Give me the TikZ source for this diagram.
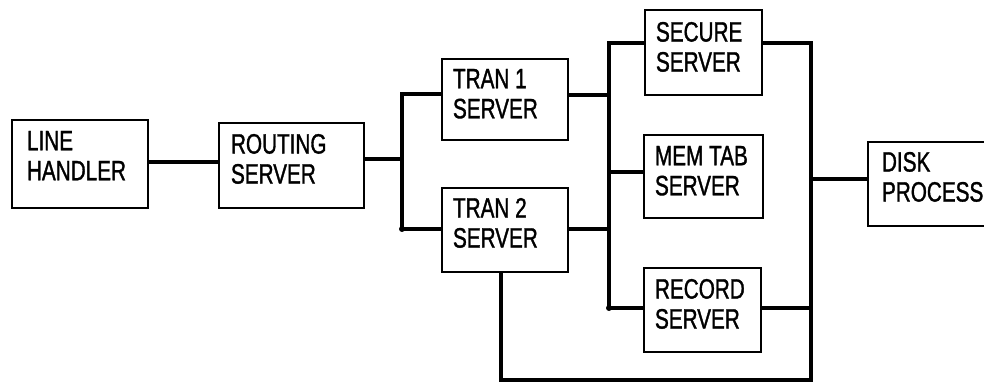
\documentclass[tikz,border=0pt]{standalone}
\usepackage{fontspec}
\setmainfont{Liberation Sans}[FakeStretch=0.74,FakeBold=1.2]
\usetikzlibrary{calc}
\tikzset{
  box/.style={draw=black, line width=2.4pt, fill=white, inner sep=0pt},
  txt/.style={anchor=north west, inner sep=0pt, align=left, font=\fontsize{28}{30}\selectfont},
  conn/.style={line width=3.2pt, line cap=rect},
}
\begin{document}
\begin{tikzpicture}[x=1pt,y=-1pt]
\useasboundingbox (0,0) rectangle (984,382);
\clip (0,0) rectangle (984,382);
% boxes
\node[box, minimum width=136pt, minimum height=88pt] (lh) at (80,164) {};
\node[box, minimum width=145pt, minimum height=85pt] (rs) at (291.5,165.5) {};
\node[box, minimum width=126pt, minimum height=81pt] (t1) at (505,99.5) {};
\node[box, minimum width=126pt, minimum height=84pt] (t2) at (505,230) {};
\node[box, minimum width=117pt, minimum height=85pt] (sec) at (703.5,52.5) {};
\node[box, minimum width=119pt, minimum height=83pt] (mem) at (703.5,176.5) {};
\node[box, minimum width=117pt, minimum height=84pt] (rec) at (702.5,310) {};
\node[box, minimum width=140pt, minimum height=84pt] (disk) at (938,184) {};
% texts
\node[txt] (lht) at ($(lh.north west)+(16,12)$) {LINE\\HANDLER};
\node[txt] (rst) at ($(rs.north west)+(13,12)$) {ROUTING\\SERVER};
\node[txt] (t1t) at ($(t1.north west)+(12,11)$) {TRAN 1\\SERVER};
\node[txt] (t2t) at ($(t2.north west)+(12,11)$) {TRAN 2\\SERVER};
\node[txt] (sect) at ($(sec.north west)+(12,13)$) {SECURE\\SERVER};
\node[txt] (memt) at ($(mem.north west)+(12,12)$) {MEM TAB\\SERVER};
\node[txt] (rect) at ($(rec.north west)+(12,12)$) {RECORD\\SERVER};
\node[txt] (diskt) at ($(disk.north west)+(15,11)$) {DISK\\PROCESS};
% bus coordinates
\coordinate (b1top) at (402,94);
\coordinate (b1bot) at (402,229);
\coordinate (b1mid) at (402,159);
\coordinate (b2top) at (609,43);
\coordinate (b2bot) at (609,308);
\coordinate (b3top) at (811,43);
\coordinate (b3bot) at (811,380);
\coordinate (c1) at (501,380);
% connectors
\draw[conn] ($(lh.east)+(0,-2)$) -- ($(rs.west)+(0,-3.5)$);
\draw[conn] (b1mid -| rs.east) -- (b1mid);
\draw[conn] (b1top) -- (b1bot);
\draw[conn] (b1top) -- (b1top -| t1.west);
\draw[conn] (b1bot) -- (b1bot -| t2.west);
\draw[conn] (t1.east |- 0,95) -- (b2top |- 0,95);
\draw[conn] (t2.east |- b1bot) -- (b2top |- b1bot);
\draw[conn] (b2top) -- (b2bot);
\draw[conn] (b2top) -- (b2top -| sec.west);
\draw[conn] (b2top |- 0,172) -- (mem.west |- 0,172);
\draw[conn] (b2bot) -- (b2bot -| rec.west);
\draw[conn] (sec.east |- b3top) -- (b3top);
\draw[conn] (rec.east |- b2bot) -- (b3top |- b2bot);
\draw[conn] (b3top) -- (b3bot);
\draw[conn] (b3top |- 0,179) -- (disk.west |- 0,179);
\draw[conn] (c1 |- t2.south) -- (c1) -- (b3bot);
\fill (b1bot) circle (3pt);
\fill (b2bot) circle (3pt);
\end{tikzpicture}
\end{document}
